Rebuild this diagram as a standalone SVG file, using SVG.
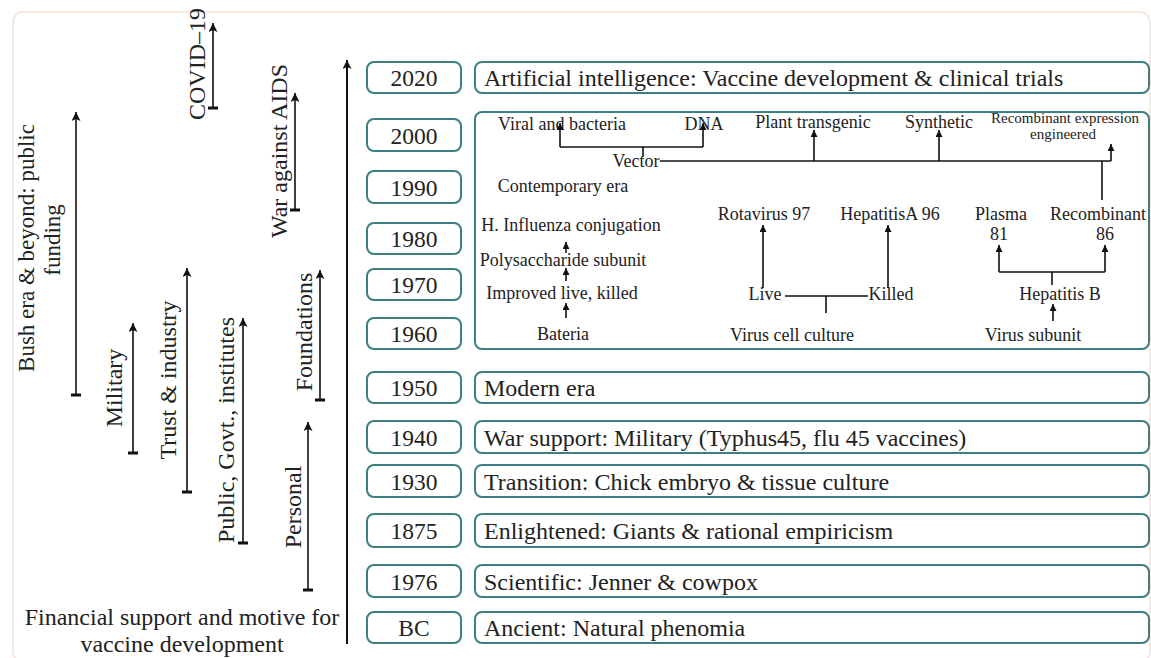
<svg xmlns="http://www.w3.org/2000/svg" width="1151" height="658" viewBox="0 0 1151 658">
  <defs>
    <style>
      .card { fill: #ffffff; stroke: #f4e2d8; stroke-width: 1.5; }
      .box { fill: #ffffff; stroke: #3c7f83; stroke-width: 2; }
      .t { font-family: 'Liberation Serif', serif; fill: #222222; }
      .yr { font-size: 23.5px; text-anchor: middle; }
      .era { font-size: 24px; }
      .sm { font-size: 18px; text-anchor: middle; }
      .xs { font-size: 15px; text-anchor: middle; }
      .side { font-size: 24px; text-anchor: middle; }
      .side2 { font-size: 23px; text-anchor: middle; }
      .ln { fill: none; stroke: #111111; stroke-width: 1.6; }
      .lnb { fill: none; stroke: #111111; stroke-width: 2; }
      .bar { stroke: #111111; stroke-width: 3; }
    </style>
    <marker id="ah" markerUnits="userSpaceOnUse" markerWidth="8" markerHeight="8" refX="7" refY="3.5" orient="auto">
      <path d="M0,0 L7,3.5 L0,7 z" fill="#111111"/>
    </marker>
    <marker id="ahl" markerUnits="userSpaceOnUse" markerWidth="10" markerHeight="10" refX="9" refY="4.5" orient="auto">
      <path d="M0,0 L9,4.5 L0,9 L2,4.5 z" fill="#111111"/>
    </marker>
  </defs>

  <rect x="0" y="0" width="1151" height="658" fill="#ffffff"/>
  <rect class="card" x="13" y="12" width="1137" height="650" rx="10"/>

  <!-- funding side labels and their spans -->
  <g id="funding-labels">
    <g id="bush">
      <text class="t side2" transform="translate(34,248) rotate(-90)">Bush era &amp; beyond: public</text>
      <text class="t side2" transform="translate(60,240) rotate(-90)">funding</text>
    </g>
    <g id="military">
      <text class="t side" transform="translate(122,388) rotate(-90)">Military</text>
    </g>
    <g id="trust">
      <text class="t side" transform="translate(176,380) rotate(-90)">Trust &amp; industry</text>
    </g>
    <g id="public">
      <text class="t side" transform="translate(234,430) rotate(-90)">Public, Govt., institutes</text>
    </g>
    <g id="personal">
      <text class="t side" transform="translate(301,507) rotate(-90)">Personal</text>
    </g>
    <g id="foundations">
      <text class="t side" transform="translate(312,332) rotate(-90)">Foundations</text>
    </g>
    <g id="aids">
      <text class="t side" transform="translate(287,151) rotate(-90)">War against AIDS</text>
    </g>
    <g id="covid">
      <text class="t side" transform="translate(205,64) rotate(-90)">COVID–19</text>
    </g>
    <g id="caption">
      <text class="t side" x="182" y="625">Financial support and motive for</text>
      <text class="t side" x="182" y="652">vaccine development</text>
    </g>
  </g>

  <!-- timeline year boxes -->
  <g id="years">
    <g id="y2020"><rect class="box" x="367" y="62" width="94" height="31" rx="7"/><text class="t yr" x="414" y="86">2020</text></g>
    <g id="y2000"><rect class="box" x="367" y="119" width="94" height="32" rx="7"/><text class="t yr" x="414" y="143.5">2000</text></g>
    <g id="y1990"><rect class="box" x="367" y="171" width="94" height="32" rx="7"/><text class="t yr" x="414" y="195.5">1990</text></g>
    <g id="y1980"><rect class="box" x="367" y="223" width="94" height="31" rx="7"/><text class="t yr" x="414" y="247">1980</text></g>
    <g id="y1970"><rect class="box" x="367" y="269" width="94" height="31" rx="7"/><text class="t yr" x="414" y="293">1970</text></g>
    <g id="y1960"><rect class="box" x="367" y="318" width="94" height="31" rx="7"/><text class="t yr" x="414" y="342">1960</text></g>
    <g id="y1950"><rect class="box" x="367" y="372" width="94" height="31" rx="7"/><text class="t yr" x="414" y="396">1950</text></g>
    <g id="y1940"><rect class="box" x="367" y="421" width="94" height="32" rx="7"/><text class="t yr" x="414" y="445.5">1940</text></g>
    <g id="y1930"><rect class="box" x="367" y="465" width="94" height="32" rx="7"/><text class="t yr" x="414" y="489.5">1930</text></g>
    <g id="y1875"><rect class="box" x="367" y="514" width="94" height="33" rx="7"/><text class="t yr" x="414" y="539">1875</text></g>
    <g id="y1976"><rect class="box" x="367" y="565" width="94" height="32" rx="7"/><text class="t yr" x="414" y="589.5">1976</text></g>
    <g id="yBC"><rect class="box" x="367" y="612" width="94" height="31" rx="7"/><text class="t yr" x="414" y="636">BC</text></g>
  </g>

  <!-- era description boxes -->
  <g id="eras">
    <g id="e2020"><rect class="box" x="475" y="62" width="674" height="31" rx="7"/><text class="t era" x="484" y="85.5">Artificial intelligence: Vaccine development &amp; clinical trials</text></g>
    <g id="e1950"><rect class="box" x="475" y="372" width="674" height="31" rx="7"/><text class="t era" x="484" y="396">Modern era</text></g>
    <g id="e1940"><rect class="box" x="475" y="421" width="674" height="32" rx="7"/><text class="t era" x="484" y="445.5">War support: Military (Typhus45, flu 45 vaccines)</text></g>
    <g id="e1930"><rect class="box" x="475" y="465" width="674" height="32" rx="7"/><text class="t era" x="484" y="489.5">Transition: Chick embryo &amp; tissue culture</text></g>
    <g id="e1875"><rect class="box" x="475" y="514" width="674" height="33" rx="7"/><text class="t era" x="484" y="539">Enlightened: Giants &amp; rational empiricism</text></g>
    <g id="e1976"><rect class="box" x="475" y="565" width="674" height="32" rx="7"/><text class="t era" x="484" y="589.5">Scientific: Jenner &amp; cowpox</text></g>
    <g id="eBC"><rect class="box" x="475" y="612" width="674" height="31" rx="7"/><text class="t era" x="484" y="636">Ancient: Natural phenomia</text></g>
  </g>

  <!-- contemporary era panel -->
  <g id="contemporary">
    <rect class="box" x="475" y="112" width="674" height="237" rx="7"/>
    <text class="t sm" x="562" y="130">Viral and bacteria</text>
    <text class="t sm" x="704" y="130">DNA</text>
    <text class="t sm" x="636" y="167">Vector</text>
    <text class="t sm" x="813" y="128">Plant transgenic</text>
    <text class="t sm" x="939" y="128">Synthetic</text>
    <text class="t xs" x="1065" y="123">Recombinant expression</text>
    <text class="t xs" x="1063" y="139">engineered</text>
    <text class="t sm" x="563" y="192">Contemporary era</text>
    <text class="t sm" x="571" y="231">H. Influenza conjugation</text>
    <text class="t sm" x="563" y="266">Polysaccharide subunit</text>
    <text class="t sm" x="562" y="299">Improved live, killed</text>
    <text class="t sm" x="563" y="340">Bateria</text>
    <text class="t sm" x="764" y="220">Rotavirus 97</text>
    <text class="t sm" x="890" y="220">HepatitisA 96</text>
    <text class="t sm" x="765" y="300">Live</text>
    <text class="t sm" x="891" y="300">Killed</text>
    <text class="t sm" x="792" y="341">Virus cell culture</text>
    <text class="t sm" x="1001" y="220">Plasma</text>
    <text class="t sm" x="999" y="240">81</text>
    <text class="t sm" x="1098" y="220">Recombinant</text>
    <text class="t sm" x="1105" y="240">86</text>
    <text class="t sm" x="1060" y="300">Hepatitis B</text>
    <text class="t sm" x="1033" y="341">Virus subunit</text>
  </g>

  <!-- connectors -->
  <g id="connectors">
    <!-- main time axis -->
    <line class="lnb" x1="347" y1="644" x2="347" y2="60" marker-end="url(#ahl)"/>

    <!-- funding spans: bar at start, arrow at end -->
    <line class="ln" x1="76" y1="395" x2="76" y2="112" marker-end="url(#ahl)"/>
    <line class="bar" x1="71" y1="395" x2="81" y2="395"/>
    <line class="ln" x1="133" y1="453" x2="133" y2="323" marker-end="url(#ahl)"/>
    <line class="bar" x1="128" y1="453" x2="138" y2="453"/>
    <line class="ln" x1="187" y1="492" x2="187" y2="268" marker-end="url(#ahl)"/>
    <line class="bar" x1="182" y1="492" x2="192" y2="492"/>
    <line class="ln" x1="243" y1="543" x2="243" y2="318" marker-end="url(#ahl)"/>
    <line class="bar" x1="238" y1="543" x2="248" y2="543"/>
    <line class="ln" x1="308" y1="590" x2="308" y2="422" marker-end="url(#ahl)"/>
    <line class="bar" x1="303" y1="590" x2="313" y2="590"/>
    <line class="ln" x1="320" y1="400" x2="320" y2="270" marker-end="url(#ahl)"/>
    <line class="bar" x1="315" y1="400" x2="325" y2="400"/>
    <line class="ln" x1="295" y1="210" x2="295" y2="93" marker-end="url(#ahl)"/>
    <line class="bar" x1="290" y1="210" x2="300" y2="210"/>
    <line class="ln" x1="213" y1="108" x2="213" y2="23" marker-end="url(#ahl)"/>
    <line class="bar" x1="208" y1="108" x2="218" y2="108"/>

    <!-- vector tree -->
    <line class="ln" x1="643" y1="157" x2="643" y2="147"/>
    <polyline class="ln" points="560,147 703,147"/>
    <line class="ln" x1="560" y1="147" x2="560" y2="123" marker-end="url(#ah)"/>
    <line class="ln" x1="703" y1="147" x2="703" y2="123" marker-end="url(#ah)"/>
    <line class="ln" x1="660" y1="161" x2="1111" y2="161"/>
    <line class="ln" x1="814" y1="161" x2="814" y2="130" marker-end="url(#ah)"/>
    <line class="ln" x1="939" y1="161" x2="939" y2="130" marker-end="url(#ah)"/>
    <line class="ln" x1="1111" y1="161" x2="1111" y2="144" marker-end="url(#ah)"/>
    <line class="ln" x1="1102" y1="161" x2="1102" y2="200"/>

    <!-- bacteria chain -->
    <line class="ln" x1="566" y1="253" x2="566" y2="242" marker-end="url(#ah)"/>
    <line class="ln" x1="566" y1="281" x2="566" y2="268" marker-end="url(#ah)"/>
    <line class="ln" x1="566" y1="318" x2="566" y2="303" marker-end="url(#ah)"/>

    <!-- virus cell culture tree -->
    <line class="ln" x1="785" y1="296" x2="868" y2="296"/>
    <line class="ln" x1="826" y1="296" x2="826" y2="313"/>
    <line class="ln" x1="763" y1="288" x2="763" y2="225" marker-end="url(#ah)"/>
    <line class="ln" x1="888" y1="288" x2="888" y2="225" marker-end="url(#ah)"/>

    <!-- hepatitis B tree -->
    <polyline class="ln" points="999,272 1105,272"/>
    <line class="ln" x1="999" y1="272" x2="999" y2="245" marker-end="url(#ah)"/>
    <line class="ln" x1="1105" y1="272" x2="1105" y2="245" marker-end="url(#ah)"/>
    <line class="ln" x1="1052" y1="272" x2="1052" y2="285"/>
    <line class="ln" x1="1053" y1="321" x2="1053" y2="304" marker-end="url(#ah)"/>
  </g>
</svg>
